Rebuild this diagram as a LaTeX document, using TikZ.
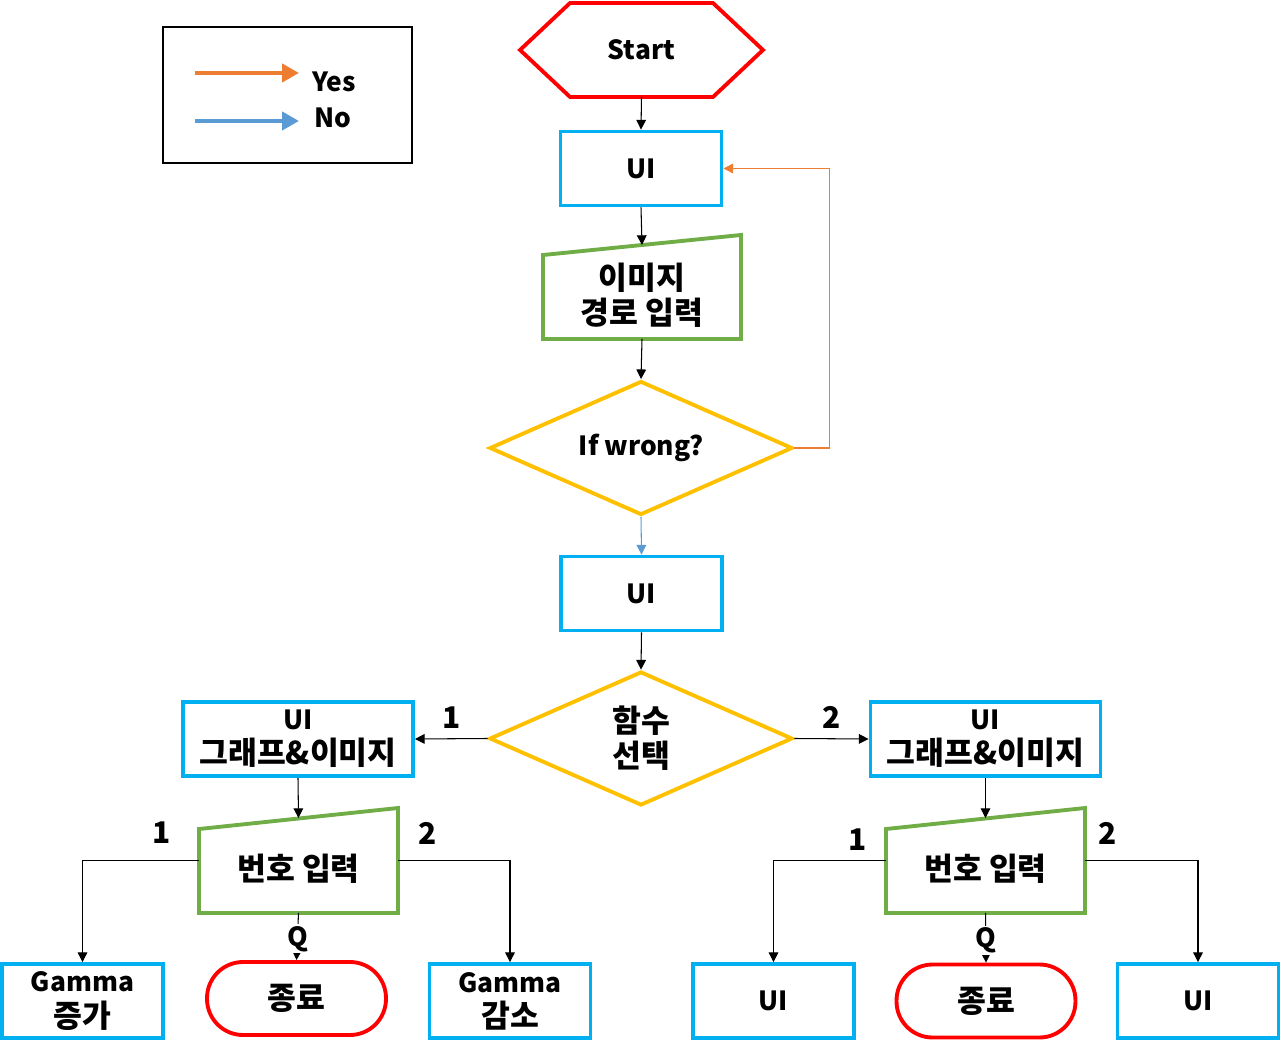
\documentclass[tikz,border=0pt]{standalone}
\usepackage{fontspec}
\setmainfont{Noto Sans CJK KR}
\newfontfamily\kr{Noto Sans CJK KR}[Scale=1.19]
\usetikzlibrary{arrows.meta,shapes.geometric,calc}
\definecolor{startred}{RGB}{255,0,0}
\definecolor{uiblue}{RGB}{0,176,240}
\definecolor{ingreen}{RGB}{112,173,71}
\definecolor{askyellow}{RGB}{255,192,0}
\definecolor{yesorange}{RGB}{237,125,49}
\definecolor{nosky}{RGB}{91,155,213}

\begin{document}
\begin{tikzpicture}[x=0.02cm, y=-0.02cm,
    every node/.style={font=\fontsize{15}{20}\selectfont\bfseries, align=center},
    uibox/.style={draw=uiblue, line width=2.2pt, minimum width=3.22cm, minimum height=1.48cm, inner sep=1pt},
    widebox/.style={uibox, minimum width=4.6cm},
    ask/.style={diamond, aspect=2.26, draw=askyellow, line width=2.2pt, minimum width=6.06cm, minimum height=2.68cm, inner sep=0pt},
    stopbox/.style={draw=startred, line width=2.2pt, rounded corners=0.72cm, minimum width=3.58cm, minimum height=1.46cm},
    holder/.style={minimum width=3.98cm, minimum height=2.1cm, inner sep=0pt, outer sep=0pt},
    inline/.style={draw=ingreen, line width=2.2pt, line join=miter},
    arr/.style={-{Triangle[length=5.5pt,width=5.5pt]}, line width=0.6pt},
    legarr/.style={-{Triangle[length=0.34cm,width=0.36cm]}, line width=2.6pt},
    num/.style={font=\fontsize{17}{20}\selectfont\bfseries}
]
\useasboundingbox (0,0) rectangle (1281,1053);

% legend
\node[draw, line width=1.1pt, minimum width=4.98cm, minimum height=2.72cm] (legend) at (287.5,95) {};
\coordinate (yesfrom) at (195,73);
\coordinate (yesto) at (299,73);
\coordinate (nofrom) at (195,121);
\coordinate (noto) at (299,121);
\draw[legarr, yesorange] (yesfrom) -- (yesto);
\draw[legarr, nosky] (nofrom) -- (noto);
\node[anchor=base] (yes) at (334,92) {Yes};
\node[anchor=base] (no) at (333,128) {No};

% main column
\node[minimum width=4.86cm, minimum height=1.88cm, outer sep=0pt] (start) at (641.5,50) {Start};
\draw[draw=startred, line width=2.2pt] (start.west) -- ($(start.north west)+(50,0)$) -- ($(start.north east)+(-50,0)$)
    -- (start.east) -- ($(start.south east)+(-50,0)$) -- ($(start.south west)+(50,0)$) -- cycle;
\node[uibox] (ui1) at (641,168.5) {UI};
\node[holder, minimum width=3.96cm, minimum height=2.08cm, label={[yshift=-0.16cm]center:{\kr 이미지\\\kr 경로 입력}}] (path) at (642,287) {};
\draw[inline] (path.south west) -- ($(path.north west)+(0,20)$) -- (path.north east) -- (path.south east) -- cycle;
\node[ask] (wrong) at (641,448) {If wrong?};
\node[uibox] (ui2) at (641.5,593.5) {UI};
\node[ask] (func) at (641,738.5) {\kr 함수\\\kr 선택};

\draw[arr] (start.south) -- (ui1.north);
\draw[arr] (ui1.south) -- ($(path.north)+(0,10)$);
\draw[arr] (path.south) -- (wrong.north);
\draw[arr, draw=yesorange] (wrong.east) -- ++(35,0) |- (ui1.east);
\draw[arr, draw=nosky] (wrong.south) -- (ui2.north);
\draw[arr] (ui2.south) -- (func.north);

% left branch
\node[widebox] (gleft) at (298,739) {UI\\\kr 그래프\&이미지};
\node[holder, label={[yshift=-0.16cm]center:{\kr 번호 입력}}] (numL) at (298.5,860.5) {};
\draw[inline] (numL.south west) -- ($(numL.north west)+(0,21)$) -- (numL.north east) -- (numL.south east) -- cycle;
\node[uibox] (gup) at (82.5,1001) {Gamma\\\kr 증가};
\node[stopbox] (endL) at (296.5,998.5) {\kr 종료};
\node[uibox] (gdown) at (510,1001) {Gamma\\\kr 감소};

\draw[arr] (func.west) -- (gleft.east) node[num, midway, above=2pt] {1};
\draw[arr] (gleft.south) -- ($(numL.north)+(0,10)$);
\draw[arr] (numL.west) -| (gup.north);
\draw[arr] (numL.east) -| (gdown.north);
\draw[arr] (numL.south) -- (endL.north) node[pos=0.55, fill=white, inner sep=1pt] {Q};
\node[num] (oneL) at (162,833) {1};
\node[num] (twoL) at (428,833) {2};

% right branch
\node[widebox] (gright) at (985.5,739) {UI\\\kr 그래프\&이미지};
\node[holder, label={[yshift=-0.16cm]center:{\kr 번호 입력}}] (numR) at (985.5,860.5) {};
\draw[inline] (numR.south west) -- ($(numR.north west)+(0,21)$) -- (numR.north east) -- (numR.south east) -- cycle;
\node[uibox] (uiR1) at (773.5,1001) {UI};
\node[stopbox] (endR) at (986,1001) {\kr 종료};
\node[uibox] (uiR2) at (1198,1001) {UI};

\draw[arr] (func.east) -- (gright.west) node[num, midway, above=2pt] {2};
\draw[arr] (gright.south) -- ($(numR.north)+(0,10)$);
\draw[arr] (numR.west) -| (uiR1.north);
\draw[arr] (numR.east) -| (uiR2.north);
\draw[arr] (numR.south) -- (endR.north) node[pos=0.55, fill=white, inner sep=1pt] {Q};
\node[num] (oneR) at (858,840) {1};
\node[num] (twoR) at (1108,833) {2};
\end{tikzpicture}
\end{document}
